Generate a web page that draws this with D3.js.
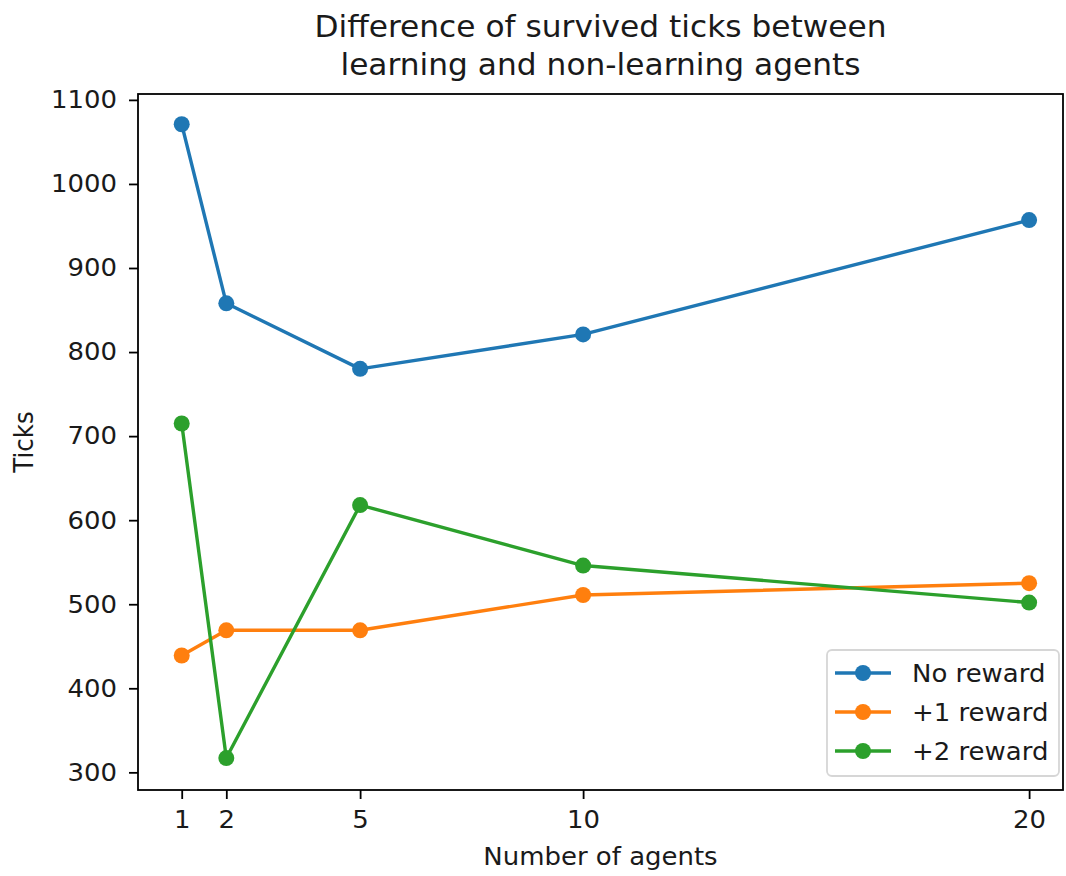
<!DOCTYPE html>
<html>
<head>
<meta charset="utf-8">
<script src="https://cdn.jsdelivr.net/npm/d3@7"></script>
<style>
  html, body { margin: 0; padding: 0; background: #fff; }
  svg { display: block; font-family: "DejaVu Sans", sans-serif; }
</style>
</head>
<body>
<svg id="chart" width="1066" height="876"></svg>
<script>
// Number of agents on the x axis
const agents = [1, 2, 5, 10, 20];
const xTickValues = [1, 2, 5, 10, 20];
const yTickValues = [300, 400, 500, 600, 700, 800, 900, 1000, 1100];

// Survived-ticks difference per reward setting
const seriesNames = ["No reward", "+1 reward", "+2 reward"];
const noReward = [1071, 858, 780, 821, 957];
const plusOneReward = [439, 469, 469, 511, 525];
const plusTwoReward = [715, 317, 618, 546, 502];
const seriesColors = ["#1f77b4", "#ff7f0e", "#2ca02c"];

const series = [noReward, plusOneReward, plusTwoReward].map((vals, i) => ({
  name: seriesNames[i],
  color: seriesColors[i],
  points: agents.map((a, j) => ({ x: a, y: vals[j] }))
}));

const svg = d3.select("#chart");
const plot = { left: 138, right: 1063, top: 94, bottom: 790 };

const x = d3.scaleLinear().domain([0.02, 20.76]).range([plot.left, plot.right]);
const y = d3.scaleLinear().domain([279, 1107]).range([plot.bottom, plot.top]);

const fontSize = 24.5;
const widen = 1.06; // text is set slightly wide

// horizontal widening of a text around its anchor point
function widenAt(ax, ay) {
  return `translate(${ax},${ay}) scale(${widen},1) translate(${-ax},${-ay})`;
}

// Axes
const xAxis = svg.append("g")
  .attr("transform", `translate(0,${plot.bottom})`)
  .call(d3.axisBottom(x).tickValues(xTickValues).tickSize(9).tickPadding(12).tickFormat(d3.format("d")));
const yAxis = svg.append("g")
  .attr("transform", `translate(${plot.left},0)`)
  .call(d3.axisLeft(y).tickValues(yTickValues).tickSize(9).tickPadding(12).tickFormat(d3.format("d")));

[xAxis, yAxis].forEach(g => {
  g.select(".domain").remove();
  g.selectAll(".tick line").attr("stroke", "#000").attr("stroke-width", 1.8);
  g.selectAll(".tick text").attr("fill", "#1a1a1a").style("font-size", fontSize + "px")
    .style("font-family", "'DejaVu Sans', sans-serif")
    .attr("transform", function () {
      const tx = +d3.select(this).attr("x") || 0;
      return widenAt(tx, 0);
    });
});

// Frame
svg.append("rect")
  .attr("x", plot.left).attr("y", plot.top)
  .attr("width", plot.right - plot.left).attr("height", plot.bottom - plot.top)
  .attr("fill", "none").attr("stroke", "#000").attr("stroke-width", 1.8);

// Lines and markers
const line = d3.line().x(d => x(d.x)).y(d => y(d.y));
const seriesG = svg.append("g");
series.forEach(s => {
  seriesG.append("path")
    .datum(s.points)
    .attr("d", line)
    .attr("fill", "none")
    .attr("stroke", s.color)
    .attr("stroke-width", 3.4)
    .attr("stroke-linejoin", "round");
  seriesG.selectAll(null)
    .data(s.points)
    .enter().append("circle")
    .attr("cx", d => x(d.x))
    .attr("cy", d => y(d.y))
    .attr("r", 8)
    .attr("fill", s.color);
});

// Title
const cx = (plot.left + plot.right) / 2;
const title = svg.append("text")
  .attr("text-anchor", "middle")
  .attr("fill", "#1a1a1a")
  .attr("transform", widenAt(cx, 0))
  .style("font-size", "29.5px");
title.append("tspan").attr("x", cx).attr("y", 37)
  .text("Difference of survived ticks between");
title.append("tspan").attr("x", cx).attr("y", 75)
  .text("learning and non-learning agents");

// Axis labels
svg.append("text")
  .attr("x", cx)
  .attr("y", 865)
  .attr("text-anchor", "middle")
  .attr("fill", "#1a1a1a")
  .attr("transform", widenAt(cx, 0))
  .style("font-size", fontSize + "px")
  .text("Number of agents");

const cy = (plot.top + plot.bottom) / 2;
svg.append("text")
  .attr("transform", `translate(33,${cy}) scale(${widen},1) rotate(-90)`)
  .attr("text-anchor", "middle")
  .attr("fill", "#1a1a1a")
  .style("font-size", fontSize + "px")
  .text("Ticks");

// Legend
const legend = svg.append("g").attr("transform", "translate(827,650)");
legend.append("rect")
  .attr("width", 232).attr("height", 126)
  .attr("rx", 5).attr("ry", 5)
  .attr("fill", "#fff").attr("fill-opacity", 0.8)
  .attr("stroke", "#d6d6d6").attr("stroke-width", 1.8);
series.forEach((s, i) => {
  const row = legend.append("g").attr("transform", `translate(0,${23 + i * 39})`);
  row.append("line")
    .attr("x1", 8).attr("x2", 64).attr("y1", 0).attr("y2", 0)
    .attr("stroke", s.color).attr("stroke-width", 3.4);
  row.append("circle").attr("cx", 36).attr("cy", 0).attr("r", 8).attr("fill", s.color);
  row.append("text")
    .attr("x", 85).attr("y", 0).attr("dy", "0.36em")
    .attr("fill", "#1a1a1a")
    .attr("transform", widenAt(85, 0))
    .style("font-size", fontSize + "px")
    .text(s.name);
});
</script>
</body>
</html>
